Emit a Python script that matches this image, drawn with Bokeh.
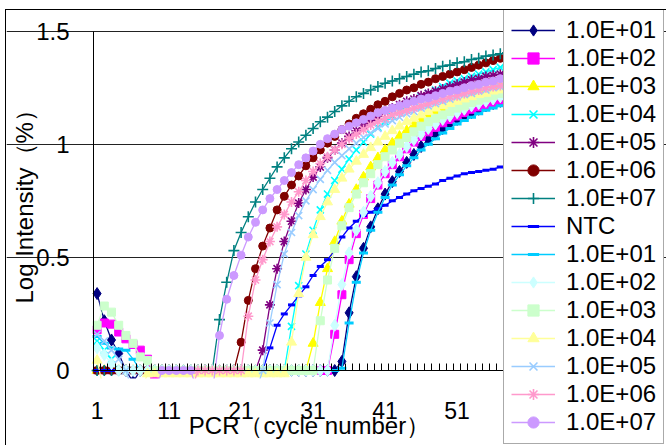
import math
from bokeh.plotting import figure
from bokeh.models import Range1d, FixedTicker, Legend, LegendItem, Label, BoxAnnotation
from bokeh.embed import file_html
from bokeh.resources import INLINE

cycles = list(range(1, 61))

names = ["1.0E+01", "1.0E+02", "1.0E+03", "1.0E+04", "1.0E+05", "1.0E+06", "1.0E+07", "NTC",
         "1.0E+01", "1.0E+02", "1.0E+03", "1.0E+04", "1.0E+05", "1.0E+06", "1.0E+07"]

s_e01 = [0.34, 0.22, 0.135, 0.075, 0.0, -0.05] + [0.0] * 28 + [
    0.04, 0.255, 0.415, 0.54, 0.635, 0.715, 0.78, 0.835, 0.88, 0.92, 0.955, 0.99, 1.02, 1.045,
    1.07, 1.09, 1.11, 1.125, 1.14, 1.155, 1.17, 1.18, 1.19, 1.20, 1.21, 1.215]
s_e02 = [0.18, 0.21, 0.205, 0.17, 0.14, 0.115, 0.09, 0.05, -0.03] + [0.0] * 24 + [
    0.16, 0.335, 0.49, 0.605, 0.69, 0.76, 0.82, 0.87, 0.91, 0.945, 0.98, 1.01, 1.035, 1.055,
    1.075, 1.095, 1.11, 1.125, 1.14, 1.155, 1.165, 1.175, 1.185, 1.195, 1.20, 1.21, 1.215]
s_e03 = [0.0] * 30 + [
    0.12, 0.30, 0.45, 0.57, 0.66, 0.735, 0.80, 0.855, 0.90, 0.94, 0.975, 1.005, 1.035, 1.06,
    1.085, 1.105, 1.125, 1.14, 1.16, 1.175, 1.19, 1.20, 1.215, 1.225, 1.235, 1.245, 1.255,
    1.26, 1.27, 1.275]
s_e04 = [0.13, 0.09, 0.05, 0.0] + [0.0] * 23 + [
    0.195, 0.375, 0.515, 0.62, 0.71, 0.78, 0.84, 0.89, 0.935, 0.975, 1.01, 1.045, 1.075, 1.10,
    1.125, 1.15, 1.17, 1.19, 1.21, 1.225, 1.24, 1.255, 1.27, 1.28, 1.29, 1.30, 1.31, 1.32,
    1.33, 1.34, 1.345, 1.35, 1.355]
s_e05 = [0.0] * 23 + [
    0.09, 0.29, 0.45, 0.57, 0.66, 0.74, 0.80, 0.855, 0.90, 0.94, 0.975, 1.005, 1.035, 1.06,
    1.085, 1.105, 1.125, 1.145, 1.16, 1.175, 1.19, 1.20, 1.215, 1.225, 1.235, 1.245, 1.255,
    1.265, 1.275, 1.285, 1.29, 1.30, 1.305, 1.31, 1.315, 1.32, 1.325]
s_e06 = [0.0] * 20 + [
    0.125, 0.31, 0.45, 0.55, 0.63, 0.71, 0.77, 0.82, 0.86, 0.905, 0.94, 0.975, 1.005, 1.035,
    1.065, 1.09, 1.115, 1.135, 1.155, 1.175, 1.19, 1.21, 1.225, 1.24, 1.25, 1.265, 1.275,
    1.29, 1.30, 1.31, 1.32, 1.33, 1.34, 1.35, 1.36, 1.37, 1.38, 1.385, 1.39, 1.395]
s_e07 = [0.0] * 17 + [
    0.225, 0.39, 0.53, 0.61, 0.68, 0.745, 0.80, 0.85, 0.90, 0.94, 0.98, 1.01, 1.04, 1.07,
    1.10, 1.12, 1.145, 1.17, 1.19, 1.21, 1.225, 1.24, 1.255, 1.27, 1.28, 1.29, 1.30, 1.31,
    1.32, 1.325, 1.335, 1.345, 1.35, 1.36, 1.365, 1.375, 1.38, 1.39, 1.395, 1.40, 1.405,
    1.41, 1.415]
s_ntc = [0.0] * 24 + [
    0.10, 0.20, 0.25, 0.29, 0.33, 0.37, 0.42, 0.46, 0.49, 0.53, 0.59, 0.63, 0.66, 0.685,
    0.70, 0.715, 0.73, 0.75, 0.765, 0.78, 0.795, 0.805, 0.815, 0.825, 0.84, 0.85, 0.86,
    0.87, 0.875, 0.88, 0.885, 0.89, 0.90, 0.905, 0.91, 0.915]
b_e01 = [0.15, 0.12, 0.10, 0.095, 0.09, 0.05, 0.0] + [0.0] * 27 + [
    0.01, 0.21, 0.39, 0.52, 0.62, 0.70, 0.765, 0.82, 0.865, 0.905, 0.94, 0.975, 1.0, 1.025,
    1.05, 1.07, 1.09, 1.105, 1.12, 1.135, 1.15, 1.16, 1.17, 1.18, 1.185, 1.19]
b_e02 = [0.10, 0.07, 0.03] + [0.0] * 30 + [
    0.20, 0.38, 0.52, 0.62, 0.70, 0.77, 0.83, 0.88, 0.92, 0.955, 0.99, 1.02, 1.045, 1.07,
    1.09, 1.11, 1.125, 1.14, 1.155, 1.17, 1.18, 1.19, 1.20, 1.21, 1.215, 1.22, 1.225]
b_e03 = [0.2, 0.285, 0.258, 0.2, 0.155, 0.12, 0.06, 0.044, 0.0] + [0.0] * 22 + [
    0.22, 0.40, 0.54, 0.64, 0.72, 0.78, 0.83, 0.87, 0.91, 0.945, 0.975, 1.005, 1.03, 1.055,
    1.08, 1.10, 1.115, 1.13, 1.145, 1.16, 1.17, 1.185, 1.195, 1.205, 1.215, 1.225, 1.23,
    1.235, 1.24]
b_e04 = [0.045] + [-0.1] * 6 + [-0.015] * 20 + [
    0.125, 0.34, 0.50, 0.60, 0.68, 0.745, 0.80, 0.85, 0.89, 0.925, 0.955, 0.985, 1.01, 1.035,
    1.06, 1.08, 1.10, 1.115, 1.13, 1.145, 1.16, 1.17, 1.18, 1.19, 1.20, 1.21, 1.22, 1.225,
    1.235, 1.24, 1.245, 1.25, 1.255]
b_e05 = [0.16, 0.13, 0.09, 0.05, 0.0] + [-0.1] * 18 + [0.0] + [
    0.21, 0.38, 0.515, 0.61, 0.685, 0.75, 0.80, 0.845, 0.885, 0.92, 0.95, 0.98, 1.005, 1.03,
    1.05, 1.07, 1.09, 1.105, 1.12, 1.135, 1.145, 1.16, 1.17, 1.18, 1.19, 1.20, 1.21, 1.22,
    1.225, 1.235, 1.24, 1.25, 1.255, 1.26, 1.265, 1.27]
b_e06 = [-0.1] * 14 + [0.0] * 7 + [
    0.24, 0.40, 0.49, 0.57, 0.635, 0.69, 0.745, 0.79, 0.84, 0.88, 0.915, 0.945, 0.975, 1.0,
    1.025, 1.045, 1.065, 1.085, 1.10, 1.115, 1.13, 1.14, 1.15, 1.16, 1.17, 1.18, 1.19, 1.20,
    1.21, 1.215, 1.225, 1.235, 1.24, 1.25, 1.255, 1.26, 1.265, 1.27, 1.275]
b_e07 = [-0.1] * 9 + [0.0] * 5 + [-0.1] * 3 + [
    0.155, 0.315, 0.42, 0.51, 0.59, 0.655, 0.71, 0.76, 0.80, 0.84, 0.875, 0.91, 0.94, 0.97,
    1.0, 1.025, 1.045, 1.065, 1.08, 1.095, 1.11, 1.125, 1.14, 1.15, 1.16, 1.17, 1.18, 1.19,
    1.20, 1.205, 1.215, 1.225, 1.235, 1.24, 1.25, 1.26, 1.265, 1.275, 1.28, 1.29, 1.295,
    1.30, 1.305]

series = [s_e01, s_e02, s_e03, s_e04, s_e05, s_e06, s_e07, s_ntc,
          b_e01, b_e02, b_e03, b_e04, b_e05, b_e06, b_e07]

x_ticks = [1, 11, 21, 31, 41, 51]
y_ticks = [0, 0.5, 1, 1.5]
x_title = "PCR\uff08cycle number\uff09"
y_title = "Log Intensity\uff08%\uff09"

colors = ["#000080", "#FF00FF", "#FFFF00", "#00FFFF", "#800080", "#800000", "#008080", "#0000FF",
          "#00CCFF", "#CCFFFF", "#CCFFCC", "#FFFF99", "#99CCFF", "#FF99CC", "#CC99FF"]
markers = ["diamond", "square", "triangle", "x", "asterisk", "circle", "cross", "dash",
           "dash", "diamond", "square", "triangle", "x", "asterisk", "circle"]
sizes = {"diamond": 12, "square": 8, "triangle": 10, "x": 10, "asterisk": 10,
         "circle": 8, "cross": 11, "dash": 8}
FONT = "Liberation Sans"

# canvas geometry (px): plot area left edge at 87, y=1.5 at 20.7, y=0 at 360
W, H = 661, 436
PX_X = 7.2      # px per cycle
PX_Y = 226.2    # px per unit
x0 = 0.5 - 87 / PX_X
x1 = x0 + W / PX_X
y1 = 1.5 + 20.7 / PX_Y
y0 = y1 - H / PX_Y

p = figure(width=W, height=H, output_backend="svg", toolbar_location=None, title=None,
           x_range=Range1d(x0, x1), y_range=Range1d(y0, y1), min_border=0,
           background_fill_color="white", border_fill_color="white")
p.outline_line_color = None
p.styles = {"border-left": "1px solid black", "border-top": "1px solid black",
            "margin-left": "5px", "margin-top": "9px"}

xa = p.xaxis[0]
xa.fixed_location = 0
xa.bounds = (0.5, 60.5)
xa.ticker = FixedTicker(ticks=x_ticks, minor_ticks=[c + 0.5 for c in range(0, 61)])
xa.major_tick_in = 0
xa.major_tick_out = 0
xa.minor_tick_in = 7
xa.minor_tick_out = 0
xa.minor_tick_line_color = "black"
xa.axis_line_color = "black"
xa.major_label_standoff = 31
xa.major_label_text_font = FONT
xa.major_label_text_font_size = "23px"
xa.major_label_text_color = "black"

ya = p.yaxis[0]
ya.fixed_location = 0.5
ya.bounds = (0, 1.5)
ya.ticker = FixedTicker(ticks=y_ticks)
ya.major_label_overrides = {0: "0", 0.5: "0.5", 1: "1", 1.5: "1.5"}
ya.major_tick_in = 0
ya.major_tick_out = 0
ya.minor_tick_line_color = None
ya.axis_line_color = "black"
ya.major_label_standoff = 24
ya.major_label_text_font = FONT
ya.major_label_text_font_size = "24px"
ya.major_label_text_color = "black"

p.xgrid.visible = False
p.ygrid.ticker = FixedTicker(ticks=[0.5, 1, 1.5])
p.ygrid.bounds = (0.5, 60.5)
p.ygrid.grid_line_color = "#222222"
p.ygrid.grid_line_width = 1

items = []
for name, vals, col, mk in zip(names, series, colors, markers):
    ln = p.line(cycles, vals, line_color=col, line_width=1.3)
    if mk in ("x", "asterisk", "cross"):
        sc = p.scatter(cycles, vals, marker=mk, size=sizes[mk], line_color=col, line_width=1.6,
                       fill_color=None)
    elif mk == "dash":
        sc = p.scatter(cycles, vals, marker=mk, size=(7 if name == "NTC" else 9),
                       line_color=col, line_width=3)
    else:
        sc = p.scatter(cycles, vals, marker=mk, size=sizes[mk], line_color=col, fill_color=col)
    items.append(LegendItem(label=name, renderers=[ln, sc]))

# plot-area clipping just below the zero line (as in the original chart)
mask = BoxAnnotation(top=-0.035, fill_color="white", fill_alpha=1.0, line_color=None,
                     level="glyph")
p.add_layout(mask)

p.add_layout(Label(x=30.5, y=0, y_offset=-55, text=x_title, text_align="center",
                   text_baseline="alphabetic", text_font=FONT, text_font_size="24px",
                   text_color="black"))
p.add_layout(Label(x=0.5, y=0.75, x_offset=-69, angle=math.pi / 2, text=y_title,
                   text_align="center", text_baseline="alphabetic", text_font=FONT,
                   text_font_size="24px", text_color="black"))

legend = Legend(items=items, location=(497, 2), orientation="vertical",
                label_text_font=FONT, label_text_font_size="24px", label_text_color="black",
                glyph_width=44, glyph_height=28, label_height=28, label_standoff=11,
                spacing=0, padding=7, margin=0,
                border_line_color="#555555", border_line_width=1,
                background_fill_color="white", background_fill_alpha=1.0)
p.add_layout(legend)

open("out.html", "w").write(file_html(p, INLINE))
